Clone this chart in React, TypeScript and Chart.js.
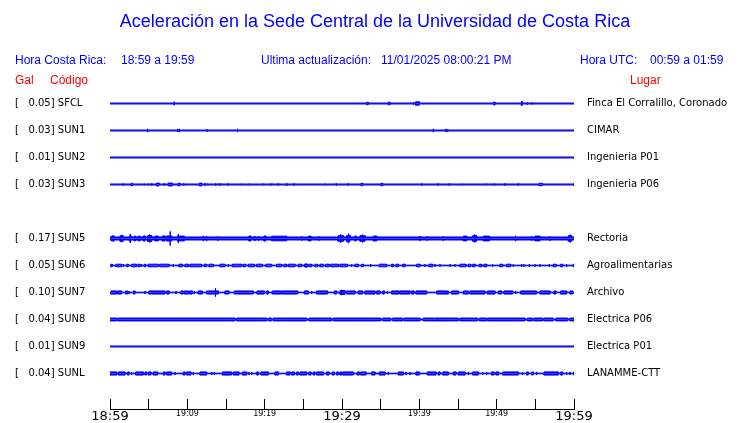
import React, { useEffect, useRef } from "react";
import { Chart, registerables } from "chart.js";

Chart.register(...registerables);

// ---------- text ----------
const TITLE = "Aceleración en la Sede Central de la Universidad de Costa Rica";
const LOCAL_LABEL = "Hora Costa Rica:";
const LOCAL_RANGE = "18:59 a 19:59";
const UPDATE_LABEL = "Ultima actualización:";
const UPDATE_VALUE = "11/01/2025 08:00:21 PM";
const UTC_LABEL = "Hora UTC:";
const UTC_RANGE = "00:59 a 01:59";
const COL_GAL = "Gal";
const COL_CODE = "Código";
const COL_PLACE = "Lugar";

// ---------- stations ----------
const STATION_CODES = ["SFCL", "SUN1", "SUN2", "SUN3", "SUN5", "SUN6", "SUN7", "SUN8", "SUN9", "SUNL"];
const STATION_SLOTS = [0, 1, 2, 3, 5, 6, 7, 8, 9, 10];
const PEAK_GAL = ["0.05", "0.03", "0.01", "0.03", "0.17", "0.05", "0.10", "0.04", "0.01", "0.04"];
const PLACES = [
  "Finca El Corralillo, Coronado",
  "CIMAR",
  "Ingenieria P01",
  "Ingenieria P06",
  "Rectoria",
  "Agroalimentarias",
  "Archivo",
  "Electrica P06",
  "Electrica P01",
  "LANAMME-CTT",
];
// background (quiet) half amplitude of each trace, Gal
const QUIET_GAL = [0.012, 0.012, 0.012, 0.012, 0.036, 0.008, 0.008, 0.012, 0.012, 0.008];

// minutes after 18:59 : [start, end, half amplitude in Gal]
const SFCL_BURSTS = [
  [8.3, 8.3, 0.045], [33.2, 33.4, 0.03], [36.0, 36.0, 0.04], [36.2, 36.2, 0.04],
  [39.2, 39.3, 0.03], [39.5, 40.0, 0.04], [49.6, 49.8, 0.035], [53.2, 53.3, 0.05],
  [54.0, 54.0, 0.035], [54.6, 54.6, 0.025],
];
const SUN1_BURSTS = [
  [4.87, 4.87, 0.04], [8.75, 8.75, 0.035], [8.96, 8.96, 0.04], [12.58, 12.58, 0.03],
  [16.5, 16.5, 0.04], [41.8, 41.8, 0.04], [43.45, 43.45, 0.04], [43.67, 43.67, 0.03],
];
const SUN2_BURSTS: number[][] = [];
const SUN3_BURSTS = [
  [1.72, 1.72, 0.03], [2.75, 2.9, 0.03], [4.43, 4.43, 0.02], [4.95, 4.95, 0.02], [5.39, 5.39, 0.03],
  [6.03, 6.34, 0.035], [7.02, 7.02, 0.03], [7.54, 8.06, 0.035], [8.83, 9.01, 0.035], [9.53, 9.53, 0.03],
  [11.55, 11.86, 0.035], [12.29, 12.29, 0.03], [12.58, 12.58, 0.02], [13.67, 13.67, 0.03],
  [14.14, 14.14, 0.03], [14.39, 14.39, 0.02], [15.3, 15.3, 0.03], [16.98, 16.98, 0.02],
  [18.01, 18.01, 0.02], [19.83, 19.83, 0.02], [20.73, 20.73, 0.02], [20.91, 20.91, 0.02],
  [21.77, 21.77, 0.03], [22.85, 22.85, 0.035], [23.83, 23.83, 0.03], [27.84, 27.84, 0.02],
  [29.26, 29.26, 0.03], [30.82, 30.82, 0.03], [32.46, 32.68, 0.03], [35.04, 35.26, 0.03],
  [40.31, 40.31, 0.03], [42.45, 42.45, 0.03], [43.88, 43.88, 0.03], [45.56, 45.56, 0.02],
  [48.62, 48.62, 0.02], [49.7, 49.7, 0.025], [51.08, 51.08, 0.03], [52.8, 52.8, 0.03],
  [55.48, 55.91, 0.03], [59.95, 59.95, 0.025],
];
const SUN5_BURSTS = [
  [0.22, 0.56, 0.062], [1.29, 1.45, 0.065], [1.5, 1.5, 0.09], [1.55, 1.72, 0.065],
  [2.46, 2.55, 0.065], [2.6, 2.6, 0.11], [2.65, 2.72, 0.065], [3.14, 3.32, 0.058], [3.66, 3.88, 0.058],
  [4.31, 4.53, 0.062], [4.87, 5.05, 0.07], [5.1, 5.1, 0.095], [5.15, 5.39, 0.07], [5.82, 6.25, 0.058],
  [6.77, 7.11, 0.062], [7.33, 7.7, 0.062], [7.76, 7.76, 0.17], [7.82, 7.98, 0.062],
  [8.75, 8.8, 0.062], [8.83, 8.83, 0.11], [8.86, 9.61, 0.058],
  [12.07, 12.07, 0.065], [12.5, 12.5, 0.06], [13.92, 13.92, 0.06], [17.98, 18.19, 0.062],
  [18.75, 18.75, 0.06], [19.18, 19.18, 0.055], [19.91, 20.13, 0.062], [20.91, 22.85, 0.056],
  [24.79, 24.79, 0.055], [25.65, 25.99, 0.058], [27.03, 27.03, 0.055],
  [29.5, 29.8, 0.068], [29.85, 29.85, 0.1], [29.9, 30.2, 0.068],
  [30.61, 30.8, 0.075], [30.85, 30.85, 0.115], [30.9, 31.04, 0.075], [31.68, 31.81, 0.062],
  [32.33, 32.6, 0.068], [32.65, 32.65, 0.095], [32.7, 32.98, 0.068], [34.05, 34.49, 0.06],
  [40.09, 40.09, 0.06], [41.03, 41.03, 0.055], [43.1, 43.1, 0.06], [45.69, 46.13, 0.058],
  [46.9, 47.1, 0.068], [47.15, 47.15, 0.095], [47.2, 47.42, 0.068], [48.27, 49.05, 0.058],
  [52.46, 52.46, 0.065], [54.53, 54.53, 0.055], [54.96, 55.61, 0.058], [56.9, 56.9, 0.055],
  [59.27, 59.45, 0.068], [59.5, 59.5, 0.095], [59.55, 59.7, 0.068],
];
const SUN6_BURSTS = [
  [0.13, 0.3, 0.032], [0.78, 1.51, 0.032], [1.72, 1.72, 0.032], [2.16, 2.37, 0.032], [2.8, 3.45, 0.032],
  [3.66, 3.88, 0.032], [4.09, 4.09, 0.032], [4.44, 4.61, 0.032], [4.96, 6.2, 0.032], [6.4, 7.63, 0.032],
  [8.19, 8.19, 0.032], [8.92, 9.35, 0.032], [9.7, 10.13, 0.032], [10.34, 11.85, 0.032], [12.2, 12.5, 0.032],
  [12.8, 13.36, 0.032], [14.22, 14.87, 0.032], [15.3, 15.3, 0.032], [15.82, 17.03, 0.032],
  [17.24, 17.54, 0.032], [17.89, 18.66, 0.032], [18.97, 19.7, 0.032], [20.17, 20.9, 0.032],
  [21.55, 22.2, 0.032], [22.5, 22.84, 0.032], [23.06, 23.92, 0.032], [24.35, 24.78, 0.032],
  [25.13, 25.3, 0.035], [25.35, 25.35, 0.05], [25.4, 25.56, 0.035], [25.73, 26.08, 0.032],
  [26.51, 26.85, 0.032], [27.16, 27.59, 0.032], [27.89, 28.32, 0.032], [28.53, 29.53, 0.032],
  [29.74, 30.69, 0.032], [31.25, 31.25, 0.032], [31.68, 32.11, 0.032], [32.54, 32.76, 0.032],
  [33.71, 33.71, 0.032], [34.83, 35.78, 0.032], [36.42, 36.64, 0.032], [36.98, 37.28, 0.032],
  [37.84, 38.15, 0.032], [39.66, 40.09, 0.032], [40.73, 40.73, 0.032], [41.25, 41.72, 0.032],
  [42.03, 42.03, 0.032], [42.67, 42.67, 0.032], [43.97, 43.97, 0.032], [44.61, 44.61, 0.032],
  [45.26, 46.03, 0.032], [46.34, 46.64, 0.032], [46.9, 47.2, 0.032], [47.76, 48.06, 0.032],
  [48.36, 48.71, 0.032], [49.48, 49.48, 0.032], [50.43, 50.78, 0.032], [51.29, 51.81, 0.032],
  [52.16, 52.16, 0.032], [53.23, 53.23, 0.032], [53.53, 53.53, 0.032], [54.22, 54.22, 0.032],
  [54.96, 54.96, 0.032], [55.6, 55.6, 0.032], [56.81, 56.81, 0.032], [57.33, 57.67, 0.032],
  [58.28, 58.53, 0.032], [59.05, 59.05, 0.032], [59.9, 60, 0.032],
];
const SUN7_BURSTS = [
  [0.13, 0.86, 0.038], [0.99, 1.51, 0.038], [2.03, 2.28, 0.038], [2.46, 2.46, 0.038], [3.02, 3.23, 0.038],
  [4.53, 4.53, 0.038], [5.04, 5.82, 0.038], [5.9, 7.11, 0.038], [7.33, 7.63, 0.038], [8.53, 8.53, 0.038],
  [9.18, 9.48, 0.038], [9.61, 10.13, 0.038], [10.26, 10.65, 0.038], [10.91, 10.91, 0.038],
  [11.42, 11.94, 0.038], [12.5, 13.6, 0.038], [13.66, 13.66, 0.1], [13.72, 14.01, 0.038],
  [14.87, 15.39, 0.038], [16.08, 18.53, 0.038], [19.01, 19.96, 0.038], [20.26, 20.47, 0.038],
  [20.99, 22.11, 0.038], [22.2, 24.27, 0.038], [25.13, 25.65, 0.038], [26.08, 26.08, 0.038],
  [26.72, 28.15, 0.038], [29.01, 29.31, 0.038], [29.74, 29.9, 0.045], [29.95, 29.95, 0.065],
  [30.0, 30.39, 0.045], [30.6, 31.68, 0.038], [32.11, 32.67, 0.038], [32.97, 34.27, 0.038],
  [34.48, 34.91, 0.038], [35.26, 35.47, 0.038], [35.86, 35.86, 0.038], [36.42, 37.41, 0.038],
  [37.5, 38.79, 0.038], [39.0, 39.31, 0.038], [39.57, 40.95, 0.038], [42.24, 43.45, 0.038],
  [43.53, 43.75, 0.038], [44.18, 45.04, 0.038], [45.69, 46.34, 0.038], [46.55, 48.49, 0.038],
  [48.79, 49.78, 0.038], [50.22, 50.65, 0.038], [50.95, 52.07, 0.038], [52.46, 52.46, 0.038],
  [53.1, 55.17, 0.038], [55.6, 56.9, 0.038], [57.41, 57.67, 0.038], [58.28, 59.05, 0.038],
  [59.48, 59.83, 0.038],
];
const SUN8_BURSTS = [
  [0, 0.86, 0.035], [0.99, 16.16, 0.035], [16.38, 20.26, 0.035], [20.47, 20.9, 0.035],
  [21.12, 25.43, 0.035], [25.73, 28.66, 0.035], [28.88, 35.0, 0.035], [35.26, 36.29, 0.035],
  [36.55, 37.84, 0.035], [38.02, 40.09, 0.035], [40.52, 41.9, 0.035], [42.0, 45.04, 0.035],
  [45.26, 47.54, 0.035], [47.76, 48.71, 0.035], [48.84, 53.66, 0.035], [53.97, 54.66, 0.035],
  [54.83, 55.95, 0.035], [56.12, 57.33, 0.035], [57.67, 59.18, 0.035], [59.48, 60, 0.035],
];
const SUN9_BURSTS: number[][] = [];
const SUNL_BURSTS = [
  [0, 0.86, 0.038], [1.08, 1.94, 0.038], [2.28, 2.46, 0.038], [2.8, 2.8, 0.038], [3.32, 4.31, 0.038],
  [4.53, 4.74, 0.038], [4.96, 5.3, 0.038], [5.6, 6.16, 0.038], [6.9, 7.11, 0.038], [7.33, 7.97, 0.038],
  [8.41, 8.41, 0.038], [9.48, 9.7, 0.038], [9.91, 10.47, 0.038], [10.78, 10.78, 0.038],
  [11.64, 12.5, 0.038], [13.15, 13.15, 0.038], [13.49, 13.49, 0.038], [14.53, 15.73, 0.038],
  [15.95, 16.68, 0.038], [17.11, 17.67, 0.038], [17.97, 17.97, 0.038], [18.32, 18.32, 0.038],
  [18.97, 19.18, 0.038], [19.53, 20.47, 0.038], [21.34, 21.77, 0.038], [22.84, 23.28, 0.038],
  [23.49, 23.84, 0.038], [24.14, 24.35, 0.038], [24.57, 25.43, 0.038], [25.73, 25.99, 0.038],
  [26.29, 26.51, 0.038], [26.72, 27.59, 0.038], [28.02, 28.32, 0.038], [28.75, 29.01, 0.038],
  [29.31, 29.53, 0.038], [29.74, 29.96, 0.038], [30.09, 31.47, 0.038], [31.98, 32.24, 0.038],
  [32.41, 33.1, 0.038], [33.84, 34.27, 0.038], [34.83, 35.56, 0.038], [35.99, 35.99, 0.038],
  [37.28, 37.93, 0.038], [38.28, 38.28, 0.038], [38.79, 38.79, 0.038], [39.57, 40.0, 0.038],
  [41.03, 42.16, 0.038], [42.46, 42.67, 0.038], [43.02, 43.75, 0.038], [44.4, 44.74, 0.038],
  [45.04, 45.91, 0.038], [46.34, 46.34, 0.038], [46.9, 47.63, 0.038], [48.19, 48.19, 0.038],
  [48.71, 48.71, 0.038], [49.35, 49.66, 0.038], [49.91, 50.26, 0.038], [50.78, 52.8, 0.038],
  [53.36, 53.36, 0.038], [53.88, 54.09, 0.038], [54.53, 54.74, 0.038], [55.17, 55.17, 0.038],
  [56.12, 57.97, 0.038], [58.28, 58.53, 0.038], [59.05, 59.05, 0.038], [59.48, 59.48, 0.038],
  [59.95, 60, 0.038],
];
const STATION_BURSTS = [
  SFCL_BURSTS, SUN1_BURSTS, SUN2_BURSTS, SUN3_BURSTS, SUN5_BURSTS,
  SUN6_BURSTS, SUN7_BURSTS, SUN8_BURSTS, SUN9_BURSTS, SUNL_BURSTS,
];

// ---------- x axis (minutes after 18:59) ----------
const X_MIN = 0;
const X_MAX = 60;
const TICK_MINUTES = [0, 5, 10, 15, 20, 25, 30, 35, 40, 45, 50, 55, 60];
const TICK_LABELS = ["18:59", "", "19:09", "", "19:19", "", "19:29", "", "19:39", "", "19:49", "", "19:59"];
const MAJOR_LABELS = ["18:59", "19:29", "19:59"];

// ---------- y layout (Gal) ----------
const ROW_GAP = 0.65;
const Y_MAX = 0.325;
const Y_MIN = -7.355;

const BLUE = "#0000ff";
const RED = "#ff0000";

function envelope(center: number, quiet: number, bursts: number[][], sign: number) {
  const pts: { x: number; y: number }[] = [{ x: X_MIN, y: center + sign * quiet }];
  for (const [a, b, amp] of bursts) {
    pts.push({ x: a, y: center + sign * quiet });
    pts.push({ x: a, y: center + sign * amp });
    pts.push({ x: b, y: center + sign * amp });
    pts.push({ x: b, y: center + sign * quiet });
  }
  pts.push({ x: X_MAX, y: center + sign * quiet });
  return pts;
}

const textPlugin = {
  id: "seismoText",
  afterDraw(chart: any) {
    const ctx = chart.ctx as CanvasRenderingContext2D;
    const ys = chart.scales.y;
    ctx.save();
    ctx.textBaseline = "middle";
    ctx.fillStyle = BLUE;
    ctx.textAlign = "center";
    ctx.font = "18px 'Liberation Sans'";
    ctx.fillText(TITLE, 375, 22);

    ctx.textAlign = "left";
    ctx.font = "12px 'Liberation Sans'";
    ctx.fillText(LOCAL_LABEL, 15, 61);
    ctx.fillText(LOCAL_RANGE, 121, 61);
    ctx.fillText(UPDATE_LABEL, 261, 61);
    ctx.fillText(UPDATE_VALUE, 381, 61);
    ctx.fillText(UTC_LABEL, 580, 61);
    ctx.fillText(UTC_RANGE, 650, 61);

    ctx.fillStyle = RED;
    ctx.fillText(COL_GAL, 15, 81);
    ctx.fillText(COL_CODE, 50, 81);
    ctx.fillText(COL_PLACE, 630, 81);

    ctx.fillStyle = "#000000";
    ctx.font = "10px 'DejaVu Sans'";
    STATION_CODES.forEach((code, i) => {
      const y = ys.getPixelForValue(-STATION_SLOTS[i] * ROW_GAP);
      ctx.fillText(`[   ${PEAK_GAL[i]}] ${code}`, 15, y);
      ctx.fillText(PLACES[i], 587, y);
    });
    ctx.restore();
  },
};

export default function App() {
  const ref = useRef<HTMLCanvasElement | null>(null);
  useEffect(() => {
    if (!ref.current) return;
    const datasets: any[] = [];
    STATION_CODES.forEach((code, i) => {
      const center = -STATION_SLOTS[i] * ROW_GAP;
      [1, -1].forEach((sign) => {
        datasets.push({
          label: `${code}${sign > 0 ? "+" : "-"}`,
          data: envelope(center, QUIET_GAL[i], STATION_BURSTS[i], sign),
          borderColor: BLUE,
          backgroundColor: BLUE,
          borderWidth: 1,
          pointRadius: 0,
          tension: 0,
          fill: { value: center },
        });
      });
    });
    const chart = new Chart(ref.current, {
      type: "line",
      data: { datasets },
      options: {
        responsive: false,
        animation: false,
        devicePixelRatio: 1,
        layout: { padding: { left: 110, right: 166, top: 90, bottom: 0 } },
        plugins: { legend: { display: false }, tooltip: { enabled: false }, title: { display: false } },
        scales: {
          x: {
            type: "linear",
            position: "bottom",
            min: X_MIN,
            max: X_MAX,
            afterBuildTicks: (s: any) => {
              s.ticks = TICK_MINUTES.map((v) => ({ value: v }));
            },
            afterFit: (s: any) => {
              s.height = 14;
            },
            ticks: {
              autoSkip: false,
              maxRotation: 0,
              minRotation: 0,
              padding: 10,
              color: "#000000",
              callback: (_v: any, idx: number) => TICK_LABELS[idx],
              font: (c: any) => ({
                family: "'DejaVu Sans'",
                size: MAJOR_LABELS.includes(TICK_LABELS[c.index]) ? 13 : 8,
              }),
            },
            grid: {
              display: true,
              drawOnChartArea: false,
              drawTicks: true,
              tickLength: -10,
              color: "#000000",
              lineWidth: 1,
            },
            border: { display: true, color: "#000000", width: 1 },
          },
          y: { type: "linear", display: false, min: Y_MIN, max: Y_MAX },
        },
      } as any,
      plugins: [textPlugin],
    });
    return () => chart.destroy();
  }, []);
  return (
    <div style={{ position: "fixed", left: 0, top: 0, width: 740, height: 423, background: "#fff" }}>
      <canvas ref={ref} width={740} height={423} style={{ display: "block" }} />
    </div>
  );
}
